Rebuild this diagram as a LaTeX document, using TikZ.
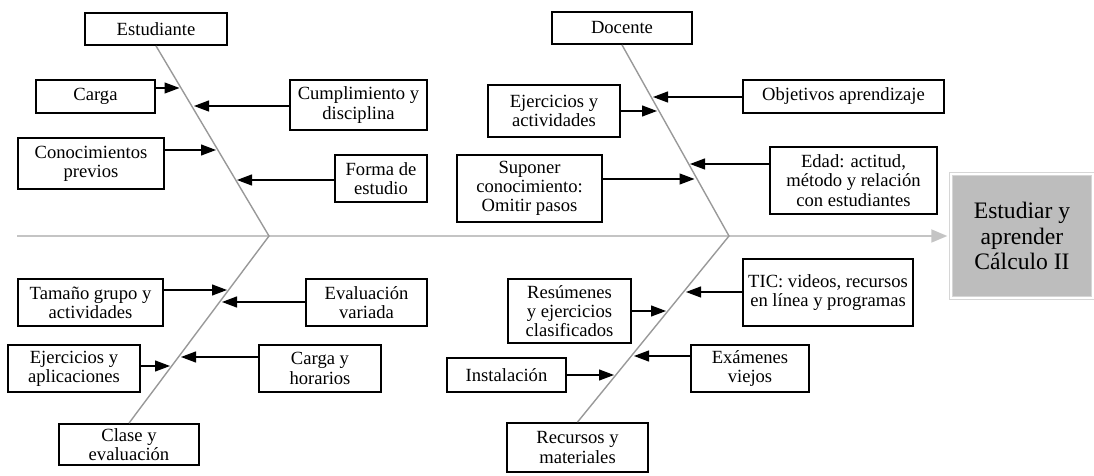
\documentclass[tikz,border=0pt]{standalone}
\usepackage{fontspec}
\setmainfont{Liberation Serif}
\usetikzlibrary{arrows.meta}
\definecolor{grishueso}{gray}{0.6}
\definecolor{grisespina}{gray}{0.77}
\definecolor{grisefecto}{gray}{0.74}
\definecolor{grisborde}{gray}{0.84}
\tikzset{
	caja/.style 2 args={
			draw, line width=0.9pt, align=center, inner sep=0pt,
			minimum width=#1*0.5pt, minimum height=#2*0.5pt,
			font=\fontsize{9.3}{9.6}\selectfont},
	efecto/.style={
			fill=grisefecto, draw=grisborde, line width=0.7pt, double=white,
			double distance=0.6pt, align=center, inner sep=0pt,
			minimum width=71pt, minimum height=62pt,
			font=\fontsize{11.8}{12.6}\selectfont},
	hueso/.style={draw=grishueso, line width=0.7pt},
	espina/.style={draw=grisespina, line width=0.9pt,
			-{Triangle[length=8pt,width=6.5pt,fill=grisespina]}},
	flecha/.style={line width=0.6pt, -{Triangle[length=7.5pt,width=5.5pt]}}
}

\begin{document}
\begin{tikzpicture}[x=0.5pt, y=-0.5pt]
        \useasboundingbox (0,0) rectangle (1094,476);

        \node[efecto] (efecto) at (1022,236) {Estudiar y\\aprender\\Cálculo II};
        \coordinate (cola) at (17,236);
        \coordinate (j1) at (269,236);
        \coordinate (j2) at (729,236);
        \draw[espina, shorten >=1.5pt] (cola) -- (efecto.west);

        \node[caja={142}{32}] (estudiante) at (156,29) {Estudiante};
        \node[caja={140}{32}] (docente) at (622,28) {Docente};
        \node[caja={140}{41}] (clase) at (129,444.5) {Clase y\\evaluación};
        \node[caja={141}{49}] (recursos) at (577.5,447.5) {Recursos y\\materiales};

        \draw[hueso] (estudiante.south) -- (j1) -- (clase.north);
        \draw[hueso] (docente.south) -- (j2) -- (recursos.north);

        \node[caja={119}{33}] (carga) at (95.5,96.5) {Carga};
        \node[caja={137}{50}] (cumplimiento) at (358.5,105) {Cumplimiento y\\disciplina};
        \node[caja={146}{51}] (previos) at (91,163.5) {Conocimientos\\previos};
        \node[caja={92}{47}] (forma) at (381,178.5) {Forma de\\estudio};

        \coordinate (p-carga) at (179.5,88);
        \coordinate (p-cumplimiento) at (194,106);
        \coordinate (p-previos) at (216,150);
        \coordinate (p-forma) at (237,180);
        \draw[flecha] (carga.east |- p-carga) -- (p-carga);
        \draw[flecha] (cumplimiento.west |- p-cumplimiento) -- (p-cumplimiento);
        \draw[flecha] (previos.east |- p-previos) -- (p-previos);
        \draw[flecha] (forma.west |- p-forma) -- (p-forma);

        \node[caja={201}{33}] (objetivos) at (843.5,96.5) {Objetivos aprendizaje};
        \node[caja={132}{52}] (ejactividades) at (554,111) {Ejercicios y\\actividades};
        \node[caja={167}{67}] (edad) at (853.5,180.5) {Edad: actitud,\\método y relación\\con estudiantes};
        \node[caja={145}{67}] (suponer) at (529.5,188.5) {Suponer\\conocimiento:\\Omitir pasos};

        \coordinate (p-objetivos) at (653,97);
        \coordinate (p-ejactividades) at (657,111);
        \coordinate (p-edad) at (690,164);
        \coordinate (p-suponer) at (694.5,179);
        \draw[flecha] (objetivos.west |- p-objetivos) -- (p-objetivos);
        \draw[flecha] (ejactividades.east |- p-ejactividades) -- (p-ejactividades);
        \draw[flecha] (edad.west |- p-edad) -- (p-edad);
        \draw[flecha] (suponer.east |- p-suponer) -- (p-suponer);

        \node[caja={145}{47}] (tamano) at (90.5,302.5) {Tamaño grupo y\\actividades};
        \node[caja={121}{47}] (evaluacion) at (366.5,302.5) {Evaluación\\variada};
        \node[caja={132}{47}] (ejaplicaciones) at (74,368.5) {Ejercicios y\\aplicaciones};
        \node[caja={122}{47}] (horarios) at (320,368.5) {Carga y\\horarios};

        \coordinate (p-tamano) at (227,290);
        \coordinate (p-evaluacion) at (222,302);
        \coordinate (p-ejaplicaciones) at (170,366);
        \coordinate (p-horarios) at (181,357);
        \draw[flecha] (tamano.east |- p-tamano) -- (p-tamano);
        \draw[flecha] (evaluacion.west |- p-evaluacion) -- (p-evaluacion);
        \draw[flecha] (ejaplicaciones.east |- p-ejaplicaciones) -- (p-ejaplicaciones);
        \draw[flecha] (horarios.west |- p-horarios) -- (p-horarios);

        \node[caja={123}{64}] (resumenes) at (569.5,311) {Resúmenes\\y ejercicios\\clasificados};
        \node[caja={170}{67}] (tic) at (828,292.5) {TIC: videos, recursos\\en línea y programas};
        \node[caja={119}{34}] (instalacion) at (506.5,375) {Instalación};
        \node[caja={118}{47}] (examenes) at (750,368.5) {Exámenes\\viejos};

        \coordinate (p-resumenes) at (666,311);
        \coordinate (p-tic) at (686,292);
        \coordinate (p-instalacion) at (614,375);
        \coordinate (p-examenes) at (634,356);
        \draw[flecha] (resumenes.east |- p-resumenes) -- (p-resumenes);
        \draw[flecha] (tic.west |- p-tic) -- (p-tic);
        \draw[flecha] (instalacion.east |- p-instalacion) -- (p-instalacion);
        \draw[flecha] (examenes.west |- p-examenes) -- (p-examenes);
    \end{tikzpicture}
\end{document}
